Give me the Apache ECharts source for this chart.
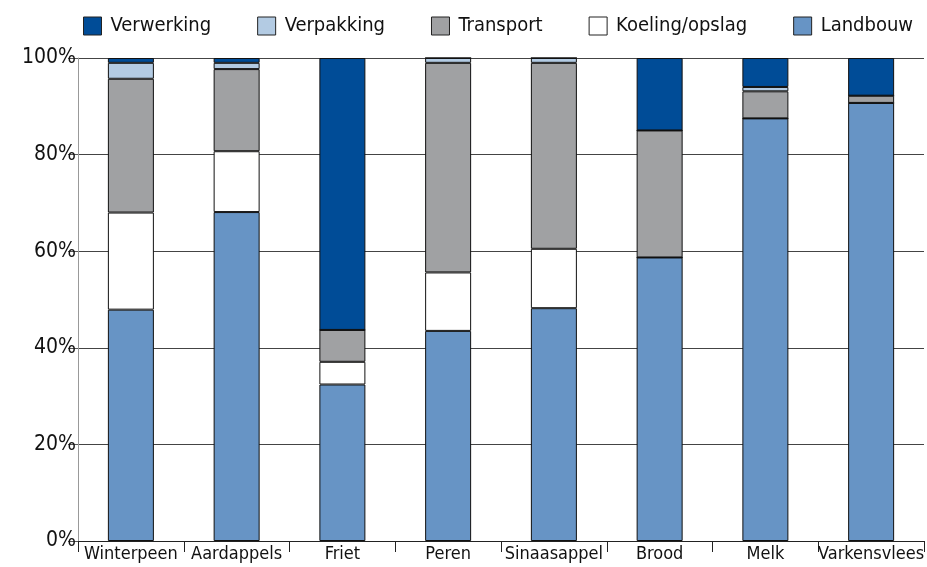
<!DOCTYPE html>
<html>
<head>
<meta charset="utf-8">
<script src="https://cdn.jsdelivr.net/npm/echarts@6/dist/echarts.min.js"></script>
<style>
  html, body { margin: 0; padding: 0; background: #fff; }
  #chart { width: 927px; height: 567px; }
</style>
</head>
<body>
<div id="chart"></div>
<script>
// categorieën
const categories = ['Winterpeen', 'Aardappels', 'Friet', 'Peren', 'Sinaasappel', 'Brood', 'Melk', 'Varkensvlees']

// aandelen per schakel (%)
const landbouw = [47.9, 68.1, 32.4, 43.5, 48.2, 58.7, 87.5, 90.7]
const koeling = [20.1, 12.6, 4.7, 12.1, 12.3, 0, 0, 0]
const transport = [27.7, 17.0, 6.6, 43.4, 38.5, 26.3, 5.6, 1.5]
const verpakking = [3.3, 1.3, 0, 1.0, 1.0, 0, 0.9, 0]
const verwerking = [1.0, 1.0, 56.3, 0, 0, 15.0, 6.0, 7.8]

const legendOrder = ['Verwerking', 'Verpakking', 'Transport', 'Koeling/opslag', 'Landbouw']

const font = '"DejaVu Sans Condensed", "Liberation Sans Narrow", sans-serif'

function bar(name, data, color) {
  return {
    name,
    type: 'bar',
    stack: 'totaal',
    data,
    barWidth: 46,
    itemStyle: { color, borderColor: '#111', borderWidth: 1 },
  }
}

const chart = echarts.init(document.getElementById('chart'))
chart.setOption({
  animation: false,
  textStyle: { fontFamily: font },
  legend: {
    data: legendOrder,
    left: 78,
    top: 11,
    itemWidth: 18,
    itemHeight: 18,
    itemGap: 46,
    icon: 'rect',
    itemStyle: { borderColor: '#222', borderWidth: 1 },
    textStyle: { fontSize: 20, color: '#111', fontFamily: font, padding: [0, 0, 0, 4] },
  },
  grid: { left: 78, right: 0, top: 58, bottom: 26 },
  xAxis: {
    type: 'category',
    data: categories,
    axisLine: { lineStyle: { color: '#222', width: 1 } },
    axisTick: { show: true, length: 11, lineStyle: { color: '#222' } },
    axisLabel: { interval: 0, fontSize: 18, color: '#111', margin: 4, fontFamily: font },
  },
  yAxis: {
    type: 'value',
    min: 0,
    max: 100,
    interval: 20,
    axisLine: { show: true, lineStyle: { color: '#999', width: 1 } },
    axisTick: { show: true, length: 10, lineStyle: { color: '#555' } },
    axisLabel: { formatter: '{value}%', fontSize: 21, color: '#111', margin: 2, fontFamily: font },
    splitLine: { lineStyle: { color: '#444', width: 1 } },
  },
  series: [
    bar('Landbouw', landbouw, '#6794c5'),
    bar('Koeling/opslag', koeling, '#ffffff'),
    bar('Transport', transport, '#a0a1a3'),
    bar('Verpakking', verpakking, '#b3cbe3'),
    bar('Verwerking', verwerking, '#004c97'),
  ],
})
</script>
</body>
</html>
